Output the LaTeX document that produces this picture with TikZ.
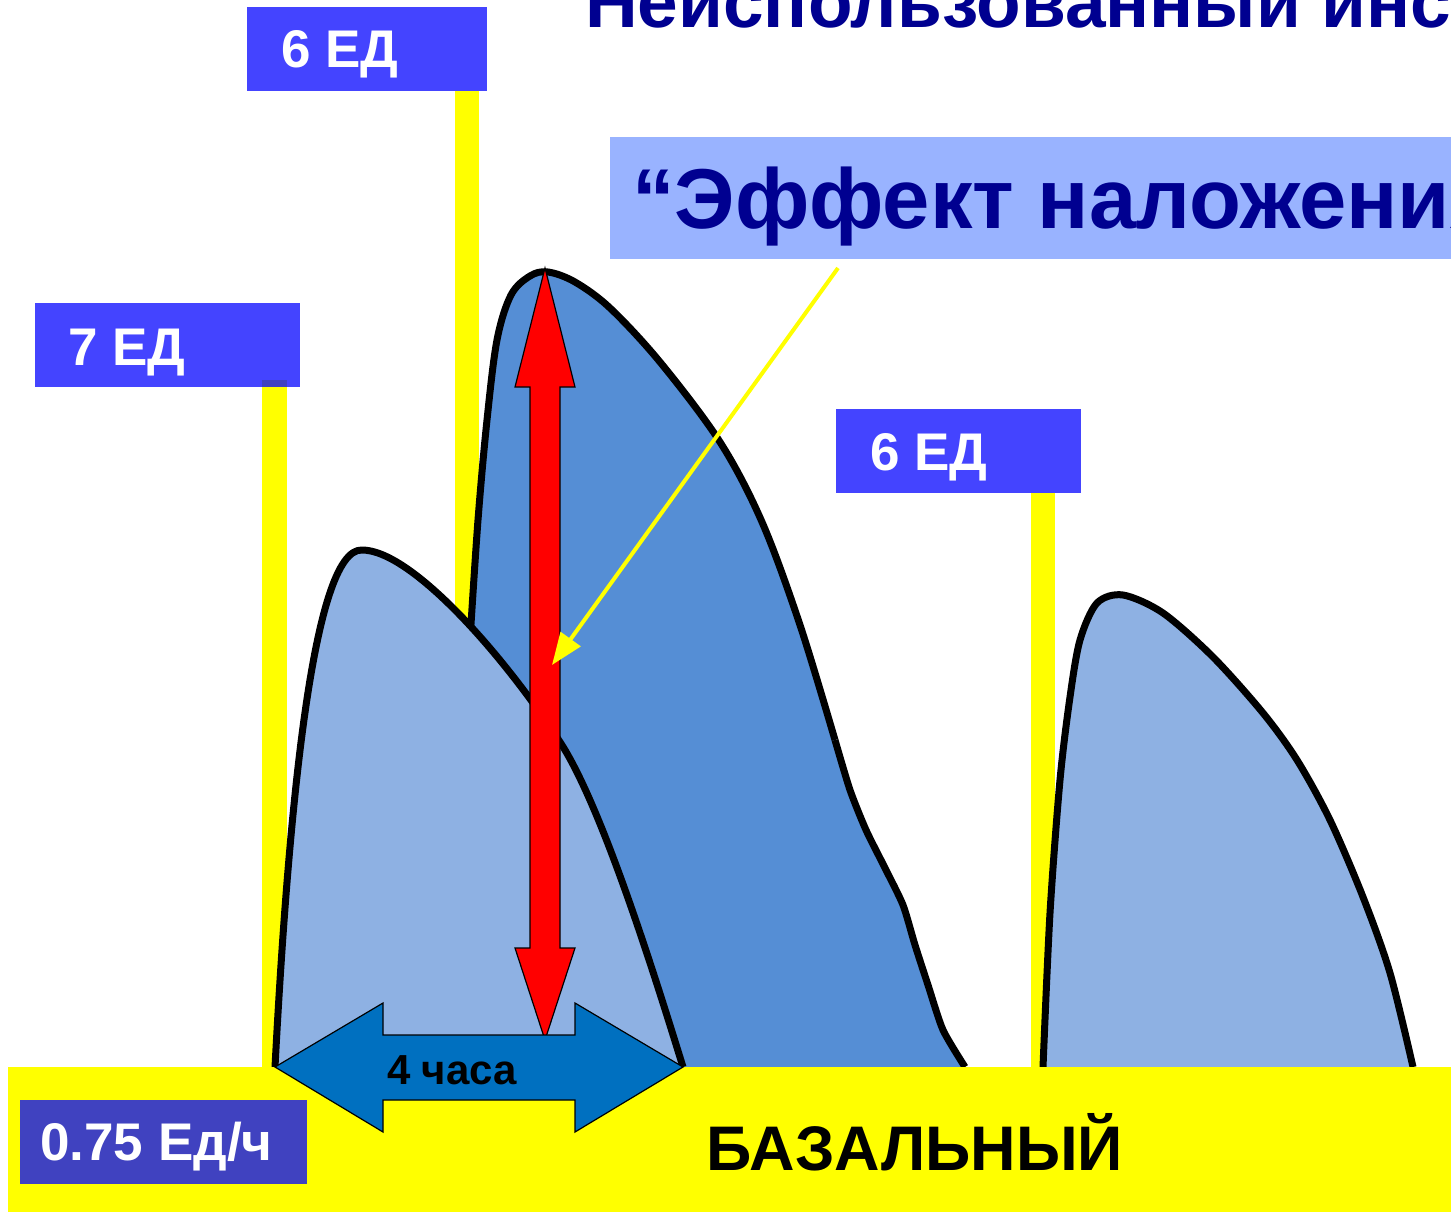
\documentclass[tikz,border=0pt]{standalone}
\usepackage{fontspec}
\setmainfont{Liberation Sans}
\usetikzlibrary{arrows.meta}
\definecolor{lblue}{HTML}{4444FF}
\definecolor{dblue}{HTML}{4042C0}
\definecolor{titlebg}{HTML}{99B3FF}
\definecolor{navy}{HTML}{000090}
\definecolor{lightcurve}{HTML}{8EB1E3}
\definecolor{darkcurve}{HTML}{558ED5}
\definecolor{arrowblue}{HTML}{0070C0}
\definecolor{stemyellow}{rgb}{1,1,0}
\tikzset{
  labeltext/.style={text=white, font=\bfseries\fontsize{53}{60}\selectfont, inner sep=0pt, anchor=base west},
  hump/.style={draw=black, line width=7pt, line join=round},
  bigarrow/.style={draw=black, line width=1.2pt, line join=miter},
}
\begin{document}
\begin{tikzpicture}[x=1pt, y={(0pt,-1pt)}]
\useasboundingbox (0,0) rectangle (1451,1212);
\clip (0,0) rectangle (1451,1212);
\fill[white] (0,0) rectangle (1451,1212);

% yellow stems
\fill[stemyellow] (262,380) rectangle (287,1070);
\fill[stemyellow] (455,91) rectangle (479,1070);
\fill[stemyellow] (1031,493) rectangle (1055,1070);

% dark curve (second injection)
\fill[darkcurve] plot[smooth, tension=0.55] coordinates {(466,720) (470,640) (478,520) (487,420) (497,340) (511,295) (530,276) (548,272) (575,282) (610,308) (660,362) (720,442) (762,522) (800,625) (835,740)}
  -- plot[smooth, tension=0.4] coordinates {(835,740) (850,790) (866,830) (885,868) (903,905) (915,945) (928,985) (943,1030) (965,1067)} -- (466,1067) -- cycle;
\draw[hump] plot[smooth, tension=0.55] coordinates {(470,640) (478,520) (487,420) (497,340) (511,295) (530,276) (548,272) (575,282) (610,308) (660,362) (720,442) (762,522) (800,625) (835,740)};
\draw[hump] plot[smooth, tension=0.4] coordinates {(835,740) (850,790) (866,830) (885,868) (903,905) (915,945) (928,985) (943,1030) (965,1067)};

% light curve 1
\fill[lightcurve] (275,1067) .. controls (288,820) and (312,548) .. (362,550)
  .. controls (410,550) and (500,650) .. (560,742)
  .. controls (600,803) and (650,960) .. (683,1067) -- cycle;
\draw[hump] (275,1067) .. controls (288,820) and (312,548) .. (362,550)
  .. controls (410,550) and (500,650) .. (560,742)
  .. controls (600,803) and (650,960) .. (683,1067);

% light curve 2
\fill[lightcurve] plot[smooth, tension=0.5] coordinates {(1043,1067) (1050,913) (1060,780) (1070,697) (1080,640) (1097,603) (1123,595) (1163,613) (1213,657) (1263,713) (1297,760) (1330,820) (1363,897) (1390,973) (1413,1067)} -- cycle;
\draw[hump] plot[smooth, tension=0.5] coordinates {(1043,1067) (1050,913) (1060,780) (1070,697) (1080,640) (1097,603) (1123,595) (1163,613) (1213,657) (1263,713) (1297,760) (1330,820) (1363,897) (1390,973) (1413,1067)};

% red double arrow
\filldraw[bigarrow, fill=red] (545,268) -- (575,387) -- (560,387) -- (560,948) -- (575,948) -- (545,1040) -- (515,948) -- (530,948) -- (530,387) -- (515,387) -- cycle;

% base
\fill[stemyellow] (8,1067) rectangle (1451,1212);

% blue double arrow
\filldraw[bigarrow, fill=arrowblue] (275,1067) -- (383,1003) -- (383,1035) -- (575,1035) -- (575,1003) -- (683,1067) -- (575,1132) -- (575,1100) -- (383,1100) -- (383,1132) -- cycle;
\node[font=\bfseries\fontsize{42}{48}\selectfont, anchor=base] (hours) at (452,1084) {4 часа};

% labels
\fill[lblue] (247,7) rectangle (487,91);
\node[labeltext] (l1) at (281,68) {6 ЕД};
\fill[lblue] (35,303) rectangle (300,387);
\fill[dblue] (262,380) rectangle (287,387);
\node[labeltext] (l2) at (68,365) {7 ЕД};
\fill[lblue] (836,409) rectangle (1081,493);
\node[labeltext] (l3) at (870,470) {6 ЕД};
\fill[dblue] (20,1100) rectangle (307,1184);
\node[labeltext] (basal) at (40,1160) {0.75 Ед/ч};
\node[font=\bfseries\fontsize{63}{70}\selectfont, anchor=base] (baz) at (915,1170) {БАЗАЛЬНЫЙ};

% titles
\node[font=\bfseries\fontsize{73}{80}\selectfont, text=navy, anchor=base west, inner sep=0pt] (top) at (585,28) {Неиспользованный инсулин};
\fill[titlebg] (610,137) rectangle (1460,259);
\node[font=\bfseries\fontsize{85}{96}\selectfont, text=navy, anchor=base west, inner sep=0pt] (eff) at (632,228) {“Эффект наложения”};

% yellow pointer
\coordinate (ps) at (838,268);
\coordinate (pe) at (552,665);
\draw[stemyellow, line width=4pt, -{Triangle[length=32pt, width=24pt]}] (ps) -- (pe);
\end{tikzpicture}
\end{document}
